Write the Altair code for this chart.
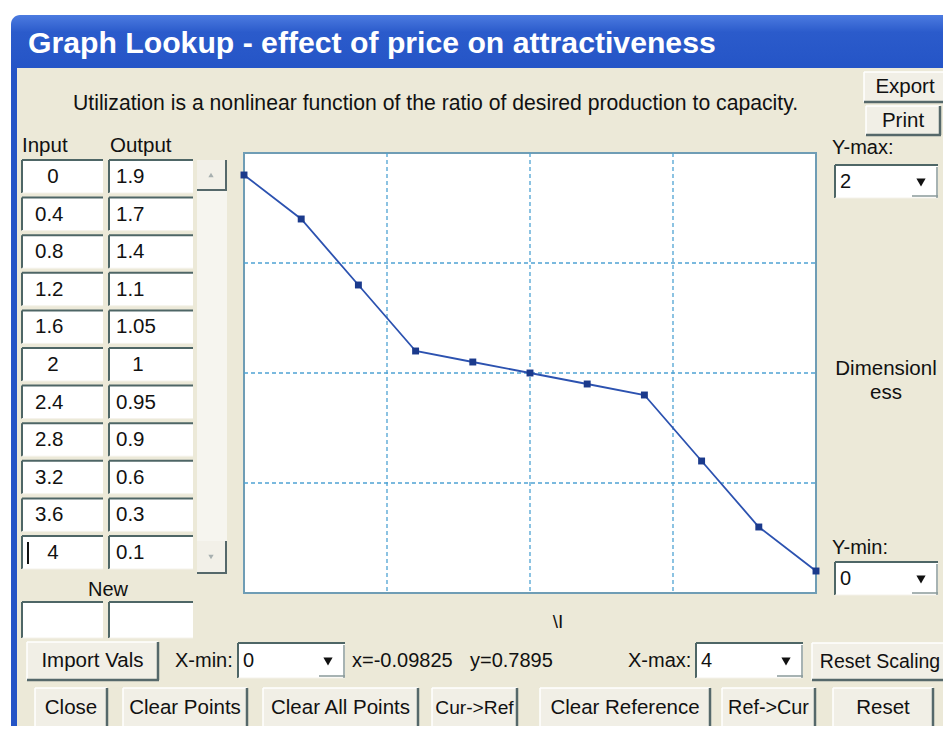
import altair as alt
import pandas as pd

# ---------------- data ----------------
inputs = [0, 0.4, 0.8, 1.2, 1.6, 2, 2.4, 2.8, 3.2, 3.6, 4]
outputs = [1.9, 1.7, 1.4, 1.1, 1.05, 1, 0.95, 0.9, 0.6, 0.3, 0.1]
x_domain = [0, 4]
y_domain = [0, 2]
x_grid = [1, 2, 3]
y_grid = [0.5, 1.0, 1.5]
title_text = "Graph Lookup - effect of price on attractiveness"
subtitle_text = "Utilization is a nonlinear function of the ratio of desired production to capacity."
cursor_x = "x=-0.09825"
cursor_y = "y=0.7895"
bottom_buttons = ["Close", "Clear Points", "Clear All Points", "Cur->Ref",
                  "Clear Reference", "Ref->Cur", "Reset"]

# ---------------- layout helpers (page pixel coordinates) ----------------
OX, OY, W, H = 244, 153, 572, 440
FONT = "Liberation Sans"
BEIGE = "#ECE9D8"
DARK = "#4E6666"

rects, edges, texts, tris = [], [], [], []


def R(x1, y1, x2, y2, fill):
    rects.append(dict(x=x1 - OX, x2=x2 - OX, y=y1 - OY, y2=y2 - OY, fill=fill))


def E(x1, y1, x2, y2, color, w):
    edges.append(dict(x=x1 - OX, x2=x2 - OX, y=y1 - OY, y2=y2 - OY, color=color, w=w))


def T(x, y, s, style="nl", fs=20, color="#111111"):
    texts.append(dict(x=x - OX, y=y - OY, t=s, style=style, fs=fs, color=color))


def TRI(x, y, kind):
    tris.append(dict(x=x - OX, y=y - OY, kind=kind))


def textbox(x1, y1, x2, y2):
    R(x1, y1, x2, y2, "#FFFFFF")
    E(x1, y1, x2, y1, DARK, 2)
    E(x1, y1, x1, y2, DARK, 2)
    E(x1, y2, x2, y2, "#F4F2EA", 1)


def button(x1, y1, x2, y2, label, fs=20.5):
    R(x1, y1, x2, y2, "#F1EFE6")
    E(x1, y1, x2, y1, "#FFFFFF", 1.5)
    E(x1, y1, x1, y2, "#FFFFFF", 1.5)
    E(x1, y2, x2 + 1, y2, "#55686A", 2.5)
    E(x2, y1, x2, y2, "#55686A", 2.5)
    T((x1 + x2) / 2, (y1 + y2) / 2, label, "nc", fs)


def dropdown(x1, y1, x2, y2, val):
    textbox(x1, y1, x2, y2)
    E(x2 - 26, y2 - 2, x2, y2 - 2, "#8A9A9A", 1.5)
    E(x2 - 1, y1 + 2, x2 - 1, y2, "#8A9A9A", 1.5)
    T(x1 + 5, (y1 + y2) / 2, val, "nl", 20)
    TRI(x2 - 17, (y1 + y2) / 2 + 1, "drop")


# window frame
R(11, 15, 960, 734, "#2454C6")
R(17, 68, 960, 729, BEIGE)

# top texts / buttons
T(73, 104, subtitle_text, "nl", 21.2)
button(864, 72, 946, 102, "Export", 20.5)
button(866, 106, 940, 135, "Print", 20.5)

# table
T(22, 146, "Input", "nl", 20.5)
T(110, 146, "Output", "nl", 20.5)
for i, (a, b) in enumerate(zip(inputs, outputs)):
    top = 160 + i * 37.6
    textbox(22, top, 103, top + 33)
    textbox(109, top, 193, top + 33)
    la, lb = f"{a:g}", f"{b:g}"
    if len(la) == 1:
        T(53, top + 17, la, "nc", 20.5)
    else:
        T(35, top + 17, la, "nl", 20.5)
    if len(lb) == 1:
        T(138, top + 17, lb, "nc", 20.5)
    else:
        T(116, top + 17, lb, "nl", 20.5)
E(28, 160 + 10 * 37.6 + 6, 28, 160 + 10 * 37.6 + 28, "#111111", 2)
T(108, 590, "New", "nc", 20)
textbox(22, 602, 103, 638)
textbox(109, 602, 193, 638)

# scrollbar
R(197, 160, 227, 573, "#F6F5EF")
for (y1, y2, kind, ty) in [(160, 190, "up", 175), (541, 573, "down", 557)]:
    R(197, y1, 226, y2, "#F2F0E8")
    E(197, y2, 227, y2, "#55686A", 2)
    E(226, y1, 226, y2, "#55686A", 2)
    TRI(211, ty, kind)

# right side
T(832, 148, "Y-max:", "nl", 20)
dropdown(835, 165, 938, 198, "2")
T(886, 369, "Dimensionl", "nc", 20.5)
T(886, 393, "ess", "nc", 20.5)
T(832, 548, "Y-min:", "nl", 20)
dropdown(835, 562, 938, 595, "0")

# axis label under plot
T(558, 622, "\\I", "nc", 19)

# bottom row 1
button(27, 642, 158, 680, "Import Vals", 20.5)
T(175, 661, "X-min:", "nl", 20)
dropdown(238, 643, 345, 678, "0")
T(352, 661, cursor_x, "nl", 20)
T(470, 661, cursor_y, "nl", 20)
T(628, 661, "X-max:", "nl", 20)
dropdown(696, 643, 803, 678, "4")
button(812, 643, 948, 680, "Reset Scaling", 19.5)

# bottom row 2
bx = [(35, 107), (123, 247), (263, 418), (432, 517), (540, 710), (722, 815), (833, 933)]
bfs = [20.5, 20.5, 20.5, 19.2, 20.5, 19.8, 20.5]
for (x1, x2), lab, fs in zip(bx, bottom_buttons, bfs):
    button(x1, 688, x2, 728, lab, fs)

# ---------------- layers ----------------
px = lambda f: alt.X(f, type="quantitative", scale=None, axis=None)
py = lambda f: alt.Y(f, type="quantitative", scale=None, axis=None)

frame = alt.Chart(pd.DataFrame(rects[:1])).mark_rect(
    cornerRadiusTopLeft=9, cornerRadiusTopRight=9,
    fill=alt.Gradient(gradient="linear", x1=0, x2=0, y1=0, y2=0.08,
                      stops=[alt.GradientStop(color="#4C7BE0", offset=0),
                             alt.GradientStop(color="#2B5BCB", offset=0.3),
                             alt.GradientStop(color="#2454C6", offset=1)])
).encode(x=px("x"), x2="x2:Q", y=py("y"), y2="y2:Q")

rect_layer = alt.Chart(pd.DataFrame(rects[1:])).mark_rect().encode(
    x=px("x"), x2="x2:Q", y=py("y"), y2="y2:Q",
    color=alt.Color("fill:N", scale=None))

edge_layer = alt.Chart(pd.DataFrame(edges)).mark_rule().encode(
    x=px("x"), x2="x2:Q", y=py("y"), y2="y2:Q",
    color=alt.Color("color:N", scale=None),
    strokeWidth=alt.StrokeWidth("w:Q", scale=None))

tdf = pd.DataFrame(texts)
styles = {"nl": "left", "nc": "center"}
text_layers = []
for key, align in styles.items():
    sub = tdf[tdf["style"] == key]
    if len(sub):
        text_layers.append(
            alt.Chart(sub).mark_text(align=align, baseline="middle", font=FONT).encode(
                x=px("x"), y=py("y"), text="t:N",
                size=alt.Size("fs:Q", scale=None),
                color=alt.Color("color:N", scale=None)))

title_layer = alt.Chart(pd.DataFrame({"t": [title_text]})).mark_text(
    align="left", baseline="middle", font=FONT, fontWeight="bold", fontSize=30.2, color="#FFFFFF"
).encode(x=alt.value(28 - OX), y=alt.value(44 - OY), text="t:N")

trdf = pd.DataFrame(tris)
drop_tri = alt.Chart(trdf[trdf["kind"] == "drop"]).mark_point(
    shape="triangle-down", filled=True, color="#111111", size=85, opacity=1
).encode(x=px("x"), y=py("y"))
up_tri = alt.Chart(trdf[trdf["kind"] == "up"]).mark_point(
    shape="triangle-up", filled=True, color="#A8B0B0", size=28, opacity=1
).encode(x=px("x"), y=py("y"))
down_tri = alt.Chart(trdf[trdf["kind"] == "down"]).mark_point(
    shape="triangle-down", filled=True, color="#A8B0B0", size=28, opacity=1
).encode(x=px("x"), y=py("y"))

# plot area
plot_bg = alt.Chart(pd.DataFrame({"a": [0]})).mark_rect(
    fill="#FFFFFF", stroke="#6F9DB5", strokeWidth=2
).encode(x=alt.value(0), x2=alt.value(W), y=alt.value(0), y2=alt.value(H))

xs = alt.Scale(domain=x_domain, nice=False, zero=False)
ys = alt.Scale(domain=y_domain, nice=False, zero=False)

grid_x = alt.Chart(pd.DataFrame({"gx": x_grid})).mark_rule(
    color="#4FA3D3", strokeDash=[4, 3], strokeWidth=1.3
).encode(x=alt.X("gx:Q", scale=xs, axis=None), y=alt.value(0), y2=alt.value(H))
grid_y = alt.Chart(pd.DataFrame({"gy": y_grid})).mark_rule(
    color="#4FA3D3", strokeDash=[4, 3], strokeWidth=1.3
).encode(y=alt.Y("gy:Q", scale=ys, axis=None), x=alt.value(0), x2=alt.value(W))

data = pd.DataFrame({"input": inputs, "output": outputs})
line = alt.Chart(data).mark_line(color="#2C52B0", strokeWidth=1.8).encode(
    x=alt.X("input:Q", scale=xs, axis=None), y=alt.Y("output:Q", scale=ys, axis=None))
pts = alt.Chart(data).mark_square(color="#1B3A8C", size=48, opacity=1).encode(
    x=alt.X("input:Q", scale=xs, axis=None), y=alt.Y("output:Q", scale=ys, axis=None))

chart = alt.layer(
    frame, rect_layer, plot_bg, grid_x, grid_y, line, pts, edge_layer,
    *text_layers, title_layer, drop_tri, up_tri, down_tri
).properties(
    width=W, height=H,
    autosize=alt.AutoSizeParams(type="none"),
    padding={"left": OX - 8, "top": OY - 8, "right": 935 - (OX - 8) - W, "bottom": 718 - (OY - 8) - H},
    background="#FFFFFF",
).configure_view(stroke="transparent")

chart.save("out.html", embed_options={"renderer": "svg", "actions": False})
